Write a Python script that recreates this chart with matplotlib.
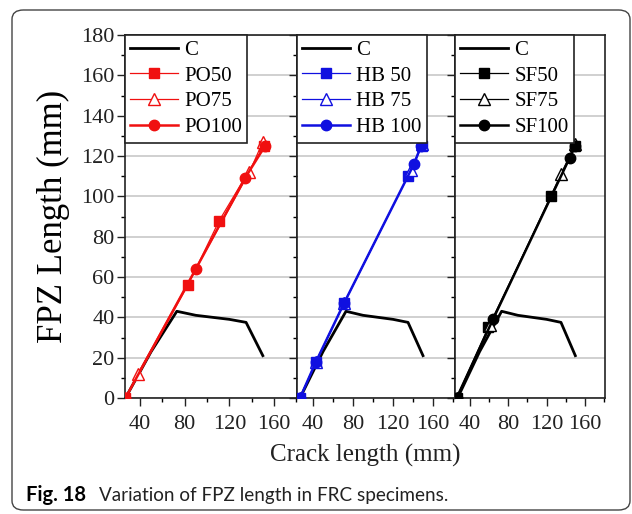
import matplotlib
matplotlib.use("Agg")
import matplotlib.pyplot as plt
from matplotlib.patches import FancyBboxPatch
from matplotlib.ticker import MultipleLocator

plt.rcParams['font.family'] = ['Liberation Serif', 'DejaVu Serif']

# control curve (same in every panel)
c_x = [27, 50, 73, 90, 120, 135, 150]
c_y = [0, 23, 43, 41, 39, 37.5, 21]

# polymer fibre
po50_x = [27, 83, 111, 151]
po50_y = [0, 56, 88, 125]
po75_x = [27, 38, 138, 150]
po75_y = [0, 12, 112, 127]
po100_x = [27, 90, 134, 152]
po100_y = [0, 64, 109, 125]

# hybrid
hb50_x = [27, 43, 71, 135, 149]
hb50_y = [0, 18, 47, 110, 125]
hb75_x = [27, 43, 71, 138, 149]
hb75_y = [0, 18, 47, 113, 126]
hb100_x = [27, 43, 71, 141, 148]
hb100_y = [0, 18, 47, 116, 125]

# steel fibre
sf50_x = [26, 59, 125, 150]
sf50_y = [0, 35, 100, 125]
sf75_x = [26, 61, 135, 150]
sf75_y = [0, 36, 111, 126]
sf100_x = [26, 64, 144, 150]
sf100_y = [0, 39, 119, 125]

x_ticks = [40, 80, 120, 160]
y_ticks = [0, 20, 40, 60, 80, 100, 120, 140, 160, 180]

W, H = 632, 514
fig = plt.figure(figsize=(W / 100, H / 100), dpi=100)

# rounded frame around the figure
frame = FancyBboxPatch((12 / W, 4 / H), 618 / W, 500 / H,
                       boxstyle="round,pad=0,rounding_size=0.018",
                       transform=fig.transFigure, fill=False,
                       edgecolor='#444444', linewidth=1.0)
fig.patches.append(frame)

bottom = 1 - 398 / H
height = (398 - 35) / H
panels = [
    (125, 297, (26.6, 180.6), '#f01010', ['PO50', 'PO75', 'PO100'],
     [(po50_x, po50_y), (po75_x, po75_y), (po100_x, po100_y)]),
    (297, 455, (24, 182), '#1010e0', ['HB 50', 'HB 75', 'HB 100'],
     [(hb50_x, hb50_y), (hb75_x, hb75_y), (hb100_x, hb100_y)]),
    (455, 605, (24.3, 181), '#000000', ['SF50', 'SF75', 'SF100'],
     [(sf50_x, sf50_y), (sf75_x, sf75_y), (sf100_x, sf100_y)]),
]

for i, (x0, x1, xlim, col, names, series) in enumerate(panels):
    ax = fig.add_axes([x0 / W, bottom, (x1 - x0) / W, height])
    ax.set_xlim(*xlim)
    ax.set_ylim(0, 180)
    ax.set_yticks(y_ticks)
    ax.set_xticks(x_ticks)
    ax.xaxis.set_minor_locator(MultipleLocator(20))
    ax.yaxis.set_minor_locator(MultipleLocator(10))
    ax.tick_params(which='major', direction='out', length=5.5, width=1,
                   labelsize=16, colors='#222222', pad=2)
    ax.tick_params(axis='x', which='major', pad=7)
    ax.tick_params(which='minor', direction='out', length=3, width=1)
    if i > 0:
        ax.tick_params(axis='y', labelleft=False)
    for s in ax.spines.values():
        s.set_linewidth(1.2)
        s.set_color('#222222')
    ax.grid(axis='y', color='#c8c8c8', linewidth=1.2)
    ax.set_axisbelow(True)

    ax.plot(c_x, c_y, color='black', linewidth=2.0, label='C', zorder=3)
    (x50, y50), (x75, y75), (x100, y100) = series
    ax.plot(x50, y50, color=col, linewidth=0.9, marker='s', markersize=7,
            label=names[0], zorder=4)
    ax.plot(x75, y75, color=col, linewidth=0.9, marker='^', markersize=8,
            markerfacecolor='white', markeredgewidth=1.0, label=names[1],
            zorder=4)
    ax.plot(x100, y100, color=col, linewidth=1.8, marker='o', markersize=7.5,
            label=names[2], zorder=4)

    leg = ax.legend(loc='upper left', borderaxespad=0, fontsize=15,
                    frameon=True, fancybox=False, framealpha=1,
                    edgecolor='#222222', handlelength=2.3,
                    handletextpad=0.3, labelspacing=0.3, borderpad=0.25)
    leg.get_frame().set_linewidth(1.2)
    leg.set_zorder(10)

    if i == 0:
        ax.set_ylabel('FPZ Length (mm)', fontsize=25, labelpad=8)

fig.text(365 / W, 1 - 455 / H, 'Crack length (mm)', fontsize=18,
         ha='center', va='center', color='#222222')

fig.text(26 / W, 1 - 495 / H, 'Fig. 18', fontsize=14.5, fontweight='bold',
         family=['Lato', 'DejaVu Sans'], ha='left', va='center')
fig.text(99 / W, 1 - 495 / H, 'Variation of FPZ length in FRC specimens.',
         fontsize=13.6, family=['Lato', 'DejaVu Sans'], ha='left',
         va='center', color='#222222')

fig.savefig('out.png', dpi=100)
